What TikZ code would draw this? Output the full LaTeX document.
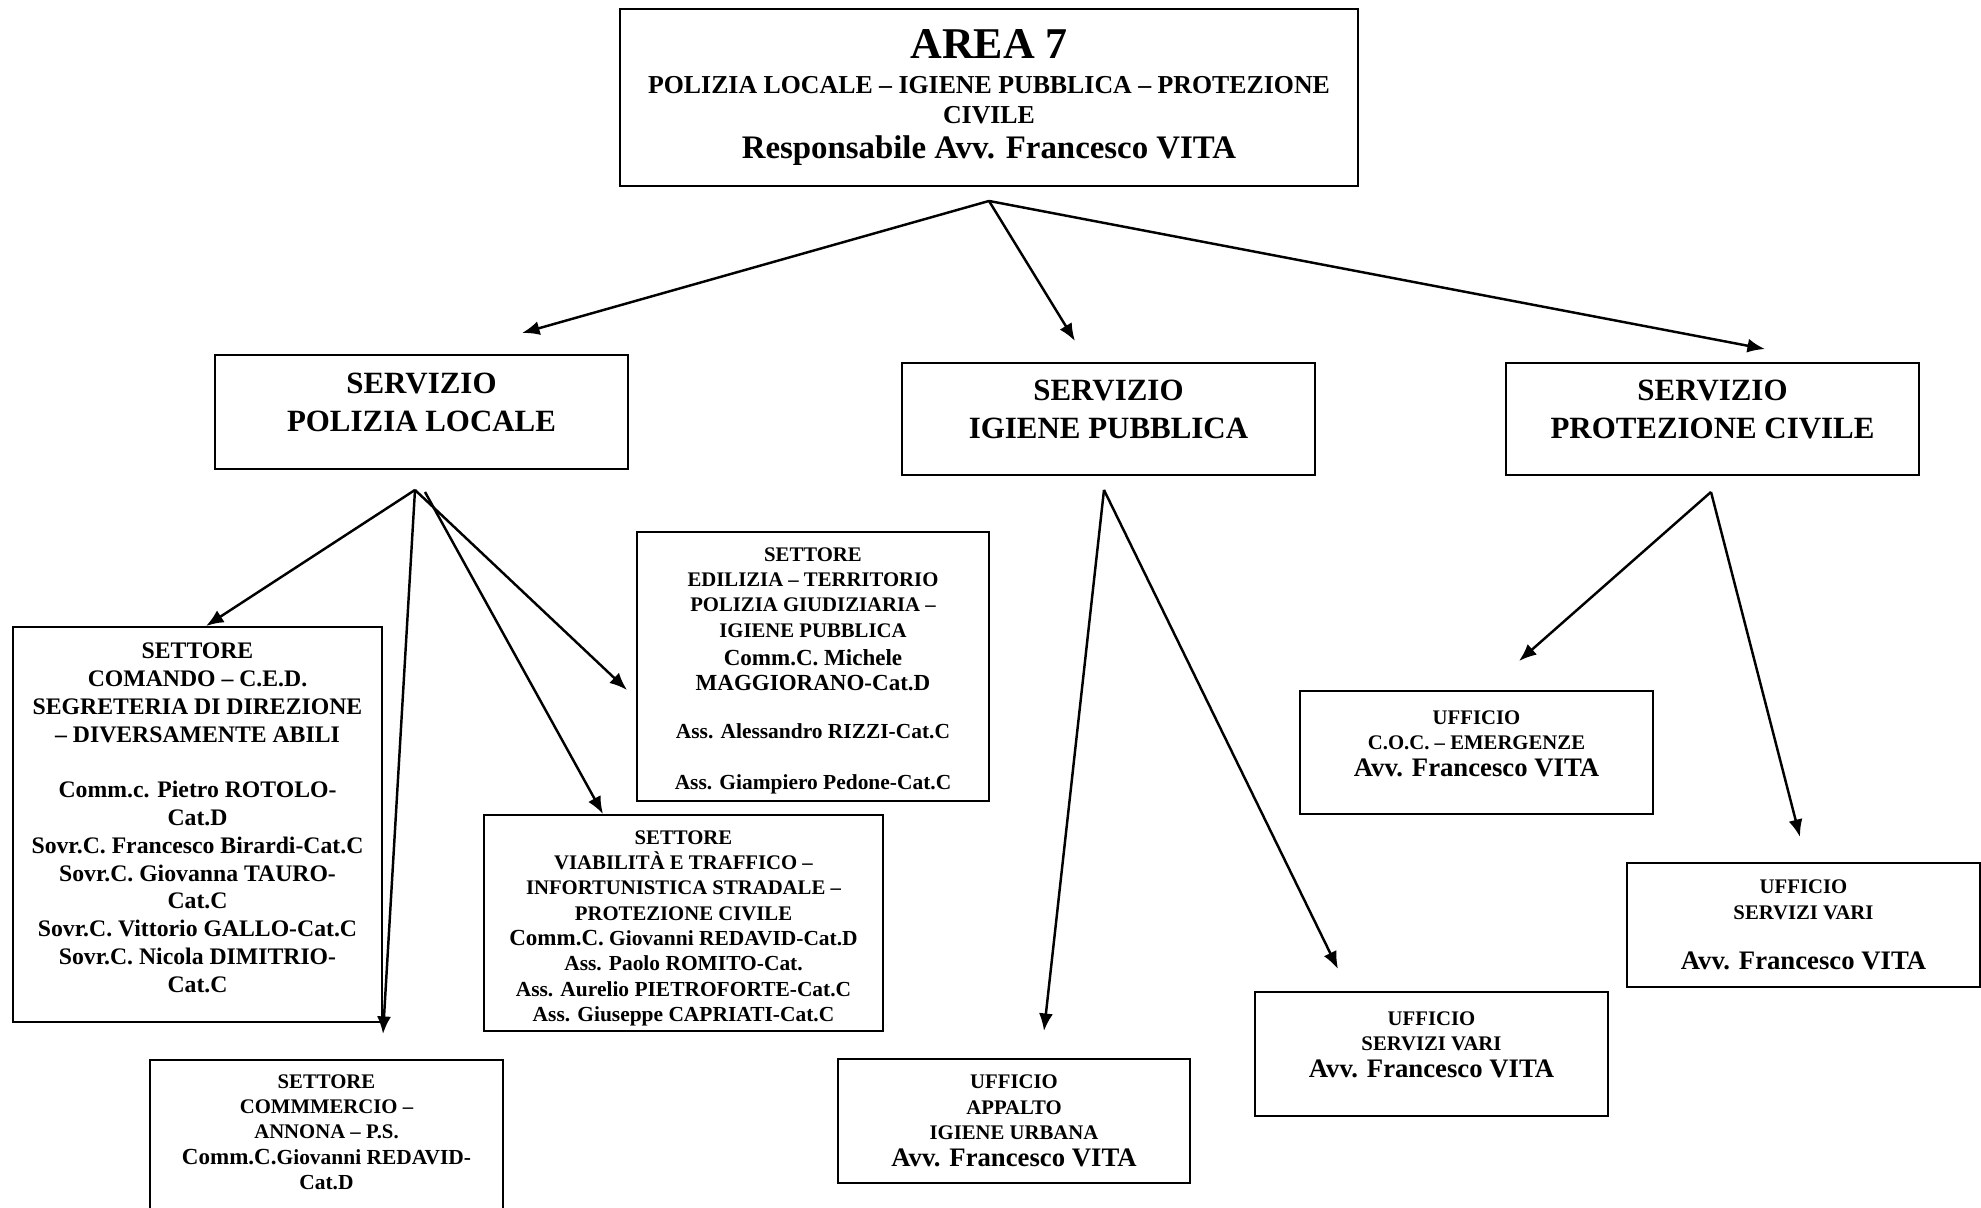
\documentclass[tikz,border=0pt]{standalone}
\usepackage{fontspec}
\setmainfont{Liberation Serif}
\usetikzlibrary{calc}
\usetikzlibrary{positioning}
\usetikzlibrary{arrows.meta}
\tikzset{
  mybox/.style={
    draw=black,
    shape=rectangle,
    line width=1.1pt,
    align=center,
    inner sep=0pt,
    font=\bfseries\fontsize{11.8}{14.4}\selectfont
  },
  myservizio/.style={
    mybox,
    minimum width=8.26cm,
    minimum height=2.24cm,
    font=\bfseries\fontsize{17.6}{21.6}\selectfont
  },
  myufficio/.style={
    mybox,
    minimum width=7.06cm,
    minimum height=2.48cm
  },
  myarrow/.style={
    draw=black,
    line width=1.4pt,
    -{Latex[length=10pt,width=8pt]}
  },
}
\newcommand{\favv}{\fontsize{15.2}{14}\selectfont}
\newcommand{\fcomm}{\fontsize{13.1}{14}\selectfont}
\newcommand{\fnome}{\fontsize{12.2}{14}\selectfont}

\begin{document}
\begin{tikzpicture}
    \useasboundingbox[fill=white] (0,0) rectangle (39.62,-24.16);

    \node[mybox, minimum width=14.76cm, minimum height=3.54cm, font=\bfseries\fontsize{14.7}{17}\selectfont] (area) at (19.78,-1.95) {{\fontsize{25}{25}\selectfont AREA 7}\\[3pt] POLIZIA LOCALE -- IGIENE PUBBLICA -- PROTEZIONE\\ CIVILE\\[3pt] {\fontsize{18.7}{17}\selectfont Responsabile Avv. Francesco VITA}};

    \node[myservizio, minimum height=2.28cm] (polizia) at (8.43,-8.24) {SERVIZIO\\ POLIZIA LOCALE\\[-11pt] \mbox{}};
    \node[myservizio] (igiene) at (22.17,-8.38) {SERVIZIO\\ IGIENE PUBBLICA\\[-11pt] \mbox{}};
    \node[myservizio] (protezione) at (34.25,-8.38) {SERVIZIO\\ PROTEZIONE CIVILE\\[-11pt] \mbox{}};

    \node[mybox, minimum width=7.38cm, minimum height=7.90cm, font=\bfseries\fontsize{13.5}{15.8}\selectfont] (comando) at (3.95,-16.49) {SETTORE\\ COMANDO -- C.E.D.\\ SEGRETERIA DI DIREZIONE\\ -- DIVERSAMENTE ABILI\\[15.8pt] Comm.c. Pietro ROTOLO-\\ Cat.D\\ Sovr.C. Francesco Birardi-Cat.C\\ Sovr.C. Giovanna TAURO-\\ Cat.C\\ Sovr.C. Vittorio GALLO-Cat.C\\ Sovr.C. Nicola DIMITRIO-\\ Cat.C\\[-8pt] \mbox{}};

    \node[mybox, minimum width=7.04cm, minimum height=5.38cm] (edilizia) at (16.26,-13.33) {\mbox{}\\[-1.8pt] SETTORE\\ EDILIZIA -- TERRITORIO\\ POLIZIA GIUDIZIARIA --\\ IGIENE PUBBLICA\\[1.5pt] {\fcomm Comm.C. Michele}\\ {\fcomm MAGGIORANO-Cat.D}\\[13pt] {\fnome Ass. Alessandro RIZZI-Cat.C}\\[14.4pt] {\fnome Ass. Giampiero Pedone-Cat.C}};

    \node[mybox, minimum width=7.98cm, minimum height=4.32cm] (viabilita) at (13.67,-18.46) {\mbox{}\\[-0.6pt] SETTORE\\ VIABILITÀ E TRAFFICO --\\ INFORTUNISTICA STRADALE --\\ PROTEZIONE CIVILE\\ {\fcomm Comm.C.} {\fnome Giovanni REDAVID-Cat.D}\\ {\fnome Ass. Paolo ROMITO-Cat.}\\ {\fnome Ass. Aurelio PIETROFORTE-Cat.C}\\ {\fnome Ass. Giuseppe CAPRIATI-Cat.C}};

    \node[mybox, anchor=north, minimum width=7.06cm, minimum height=4.2cm] (commercio) at (6.53,-21.18) {SETTORE\\ COMMMERCIO --\\ ANNONA -- P.S.\\ {\fcomm Comm.C.}{\fnome Giovanni REDAVID-}\\ {\fnome Cat.D}\\[23pt] \mbox{}};

    \node[myufficio, minimum width=7.04cm] (appalto) at (20.28,-22.42) {UFFICIO\\ APPALTO\\ IGIENE URBANA\\[1pt] {\favv Avv. Francesco VITA}};
    \node[myufficio] (servizimid) at (28.63,-21.08) {UFFICIO\\ SERVIZI VARI\\[1pt] {\favv Avv. Francesco VITA}\\[-4pt] \mbox{}};
    \node[myufficio, minimum height=2.46cm] (coc) at (29.53,-15.05) {UFFICIO\\ C.O.C. -- EMERGENZE\\[1pt] {\favv Avv. Francesco VITA}\\[-4pt] \mbox{}};
    \node[myufficio] (servizidx) at (36.07,-18.50) {UFFICIO\\ SERVIZI VARI\\[14.4pt] {\favv Avv. Francesco VITA}};

    % punti di partenza delle frecce
    \coordinate (areafork) at ([yshift=-0.28cm]area.south);
    \coordinate (polfork) at ([shift={(-0.13,-0.40)}]polizia.south);
    \coordinate (polfork2) at ([shift={(0.07,-0.44)}]polizia.south);
    \coordinate (igifork) at ([shift={(-0.09,-0.28)}]igiene.south);
    \coordinate (profork) at ([shift={(-0.03,-0.32)}]protezione.south);

    \draw[myarrow] (areafork) -- ($(polizia.north)+(2.01,0.42)$);
    \draw[myarrow] (areafork) -- ($(igiene.north)+(-0.67,0.42)$);
    \draw[myarrow] (areafork) -- ($(protezione.north)+(1.05,0.26)$);

    \draw[myarrow] (polfork) -- ($(comando.north)+(0.17,0)$);
    \draw[myarrow] (polfork) -- ($(commercio.north)+(1.13,0.50)$);
    \draw[myarrow] (polfork2) -- ($(viabilita.north)+(-1.61,0)$);
    \draw[myarrow] (polfork) -- ($(edilizia.west)+(-0.18,-0.47)$);

    \draw[myarrow] (igifork) -- ($(appalto.north)+(0.60,0.54)$);
    \draw[myarrow] (igifork) -- ($(servizimid.north)+(-1.87,0.44)$);

    \draw[myarrow] (profork) -- ($(coc.north)+(0.85,0.58)$);
    \draw[myarrow] (profork) -- ($(servizidx.north)+(-0.07,0.50)$);
  \end{tikzpicture}
\end{document}
